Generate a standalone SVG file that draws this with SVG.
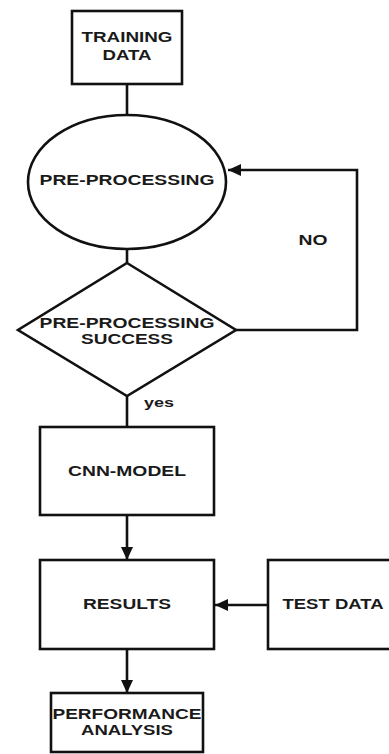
<svg xmlns="http://www.w3.org/2000/svg" width="389" height="754" viewBox="0 0 389 754">
<style>
.s{fill:#fff;stroke:#111;stroke-width:2.6}
.c{fill:none;stroke:#111;stroke-width:2.6}
text{font-family:"Liberation Sans",Arial,sans-serif;font-weight:bold;font-size:14px;fill:#1a1a1a;text-anchor:middle}
</style>
<defs>
<marker id="ah" markerWidth="13" markerHeight="12" refX="13" refY="6" orient="auto" markerUnits="userSpaceOnUse" viewBox="0 0 13 12">
<path d="M0,0 L13,6 L0,12 Z" fill="#111"/>
</marker>
</defs>
<rect width="389" height="754" fill="#fff"/>
<g id="connectors">
<line class="c" x1="127" y1="84" x2="127" y2="115"/>
<line class="c" x1="127" y1="249" x2="127" y2="263"/>
<polyline class="c" points="236,330 357,330 357,170 228,170" marker-end="url(#ah)"/>
<line class="c" x1="127" y1="396" x2="127" y2="427"/>
<line class="c" x1="127" y1="515" x2="127" y2="560" marker-end="url(#ah)"/>
<line class="c" x1="268" y1="605" x2="215" y2="605" marker-end="url(#ah)"/>
<line class="c" x1="127" y1="649" x2="127" y2="693" marker-end="url(#ah)"/>
<text x="313" y="245" textLength="29" lengthAdjust="spacingAndGlyphs">NO</text>
<text x="159" y="407" textLength="30" lengthAdjust="spacingAndGlyphs" style="font-size:13px">yes</text>
</g>
<g id="training-data">
<rect class="s" x="72" y="11" width="110" height="73"/>
<text x="127" y="42" textLength="91" lengthAdjust="spacingAndGlyphs">TRAINING</text>
<text x="127" y="60" textLength="49" lengthAdjust="spacingAndGlyphs">DATA</text>
</g>
<g id="pre-processing">
<ellipse class="s" cx="127" cy="182" rx="99" ry="67"/>
<text x="127" y="185" textLength="175" lengthAdjust="spacingAndGlyphs">PRE-PROCESSING</text>
</g>
<g id="pre-processing-success">
<polygon class="s" points="127,263 236,330 127,396 18,330"/>
<text x="127" y="328" textLength="175" lengthAdjust="spacingAndGlyphs">PRE-PROCESSING</text>
<text x="127" y="344" textLength="92" lengthAdjust="spacingAndGlyphs">SUCCESS</text>
</g>
<g id="cnn-model">
<rect class="s" x="40" y="427" width="174" height="88"/>
<text x="127" y="476" textLength="118" lengthAdjust="spacingAndGlyphs">CNN-MODEL</text>
</g>
<g id="results">
<rect class="s" x="40" y="560" width="174" height="89"/>
<text x="127" y="609" textLength="88" lengthAdjust="spacingAndGlyphs">RESULTS</text>
</g>
<g id="test-data">
<rect class="s" x="268" y="560" width="126" height="89"/>
<text x="333" y="609" textLength="101" lengthAdjust="spacingAndGlyphs">TEST DATA</text>
</g>
<g id="performance-analysis">
<rect class="s" x="51" y="693" width="152" height="59"/>
<text x="127" y="719" textLength="149" lengthAdjust="spacingAndGlyphs">PERFORMANCE</text>
<text x="127" y="735" textLength="92" lengthAdjust="spacingAndGlyphs">ANALYSIS</text>
</g>
</svg>
